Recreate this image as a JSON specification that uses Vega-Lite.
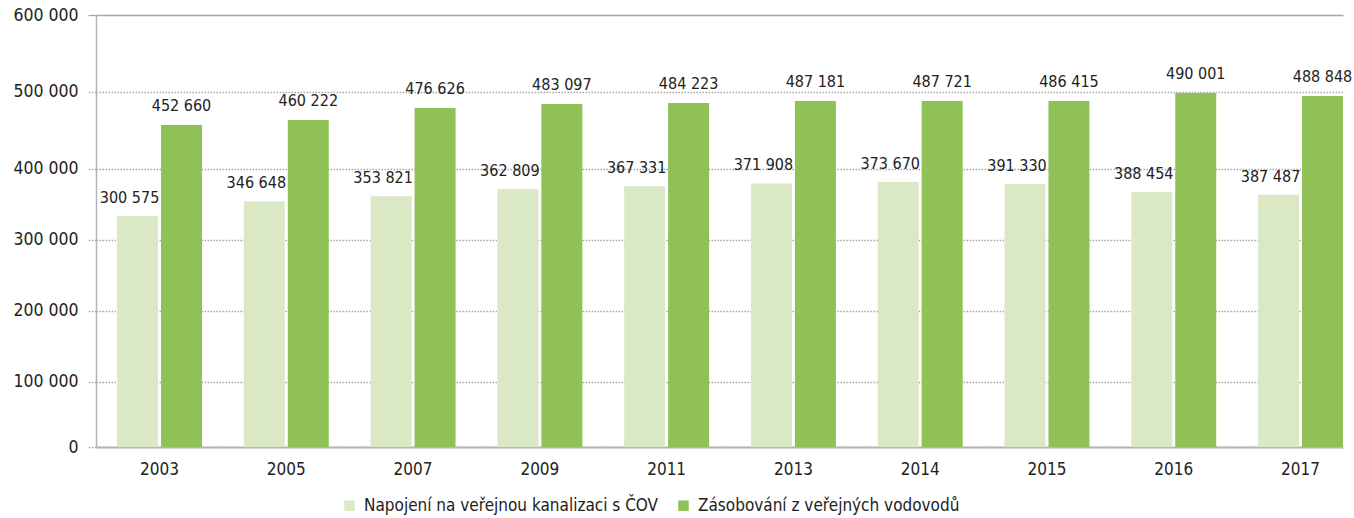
{
  "$schema": "https://vega.github.io/schema/vega-lite/v6.json",
  "width": 1247,
  "height": 432,
  "autosize": {"type": "none"},
  "padding": {"left": 96, "top": 15, "right": 11, "bottom": 71},
  "config": {
    "view": {"stroke": null},
    "font": "DejaVu Sans Condensed, Roboto, sans-serif",
    "locale": {"number": {"decimal": ",", "thousands": " ", "grouping": [3], "currency": ["", " Kč"]}}
  },
  "data": {
    "values": [
      {"year": "2003", "series": "Napojení na veřejnou kanalizaci s ČOV", "value": 333000, "label": 300575},
      {"year": "2003", "series": "Zásobování z veřejných vodovodů", "value": 456500, "label": 452660},
      {"year": "2005", "series": "Napojení na veřejnou kanalizaci s ČOV", "value": 354000, "label": 346648},
      {"year": "2005", "series": "Zásobování z veřejných vodovodů", "value": 463000, "label": 460222},
      {"year": "2007", "series": "Napojení na veřejnou kanalizaci s ČOV", "value": 361000, "label": 353821},
      {"year": "2007", "series": "Zásobování z veřejných vodovodů", "value": 478600, "label": 476626},
      {"year": "2009", "series": "Napojení na veřejnou kanalizaci s ČOV", "value": 371000, "label": 362809},
      {"year": "2009", "series": "Zásobování z veřejných vodovodů", "value": 483800, "label": 483097},
      {"year": "2011", "series": "Napojení na veřejnou kanalizaci s ČOV", "value": 375000, "label": 367331},
      {"year": "2011", "series": "Zásobování z veřejných vodovodů", "value": 485000, "label": 484223},
      {"year": "2013", "series": "Napojení na veřejnou kanalizaci s ČOV", "value": 379000, "label": 371908},
      {"year": "2013", "series": "Zásobování z veřejných vodovodů", "value": 487700, "label": 487181},
      {"year": "2014", "series": "Napojení na veřejnou kanalizaci s ČOV", "value": 381000, "label": 373670},
      {"year": "2014", "series": "Zásobování z veřejných vodovodů", "value": 487700, "label": 487721},
      {"year": "2015", "series": "Napojení na veřejnou kanalizaci s ČOV", "value": 378000, "label": 391330},
      {"year": "2015", "series": "Zásobování z veřejných vodovodů", "value": 487700, "label": 486415},
      {"year": "2016", "series": "Napojení na veřejnou kanalizaci s ČOV", "value": 367000, "label": 388454},
      {"year": "2016", "series": "Zásobování z veřejných vodovodů", "value": 498000, "label": 490001},
      {"year": "2017", "series": "Napojení na veřejnou kanalizaci s ČOV", "value": 363000, "label": 387487},
      {"year": "2017", "series": "Zásobování z veřejných vodovodů", "value": 494000, "label": 488848}
    ]
  },
  "encoding": {
    "x": {
      "field": "year", "type": "nominal", "sort": null,
      "scale": {"paddingInner": 0.33, "paddingOuter": 0.083, "align": 1},
      "axis": {
        "title": null, "ticks": false, "labelAngle": 0, "labelPadding": 14,
        "labelFontSize": 17, "labelColor": "#222222",
        "domainColor": "#b5b5b5", "domainWidth": 2, "grid": false
      }
    },
    "xOffset": {
      "field": "series", "type": "nominal",
      "sort": ["Napojení na veřejnou kanalizaci s ČOV", "Zásobování z veřejných vodovodů"],
      "scale": {"paddingInner": 0.068, "paddingOuter": 0}
    },
    "y": {
      "field": "value", "type": "quantitative",
      "scale": {
        "domain": [0, 100000, 200000, 300000, 400000, 500000, 600000],
        "range": [432, 366.7, 295.7, 224.5, 153.5, 76.5, 0],
        "nice": false, "zero": false
      },
      "axis": {
        "title": null,
        "values": [0, 100000, 200000, 300000, 400000, 500000, 600000],
        "format": ",d",
        "labelFontSize": 17.5, "labelColor": "#222222", "labelPadding": 10,
        "domainColor": "#b5b5b5", "domainWidth": 1.5,
        "tickSize": 8, "tickColor": "#a6a6a6", "tickWidth": 1.3,
        "tickDash": {"condition": {"test": "datum.value === 600000", "value": []}, "value": [1.5, 1.5]},
        "grid": true, "gridColor": "#a6a6a6", "gridWidth": 1.3,
        "gridDash": {"condition": {"test": "datum.value === 600000", "value": []}, "value": [1.5, 1.5]}
      }
    }
  },
  "layer": [
    {
      "mark": {"type": "bar"},
      "encoding": {
        "color": {
          "field": "series", "type": "nominal",
          "scale": {
            "domain": ["Napojení na veřejnou kanalizaci s ČOV", "Zásobování z veřejných vodovodů"],
            "range": ["#dbe8c6", "#8fc156"]
          },
          "legend": {
            "title": null, "orient": "none", "direction": "horizontal",
            "legendX": 245, "legendY": 482,
            "symbolType": "square", "symbolSize": 110, "symbolStrokeWidth": 0,
            "labelFontSize": 17, "labelColor": "#222222", "labelOffset": 6,
            "labelLimit": 500, "columnPadding": 16
          }
        }
      }
    },
    {
      "transform": [{"filter": "datum.series === 'Napojení na veřejnou kanalizaci s ČOV'"}],
      "mark": {"type": "text", "baseline": "alphabetic", "dy": -13, "dx": -8, "fontSize": 16, "color": "#222222"},
      "encoding": {"text": {"field": "label", "type": "quantitative", "format": ",d"}}
    },
    {
      "transform": [{"filter": "datum.series === 'Zásobování z veřejných vodovodů'"}],
      "mark": {"type": "text", "baseline": "alphabetic", "dy": -14, "fontSize": 16, "color": "#222222"},
      "encoding": {"text": {"field": "label", "type": "quantitative", "format": ",d"}}
    }
  ]
}
